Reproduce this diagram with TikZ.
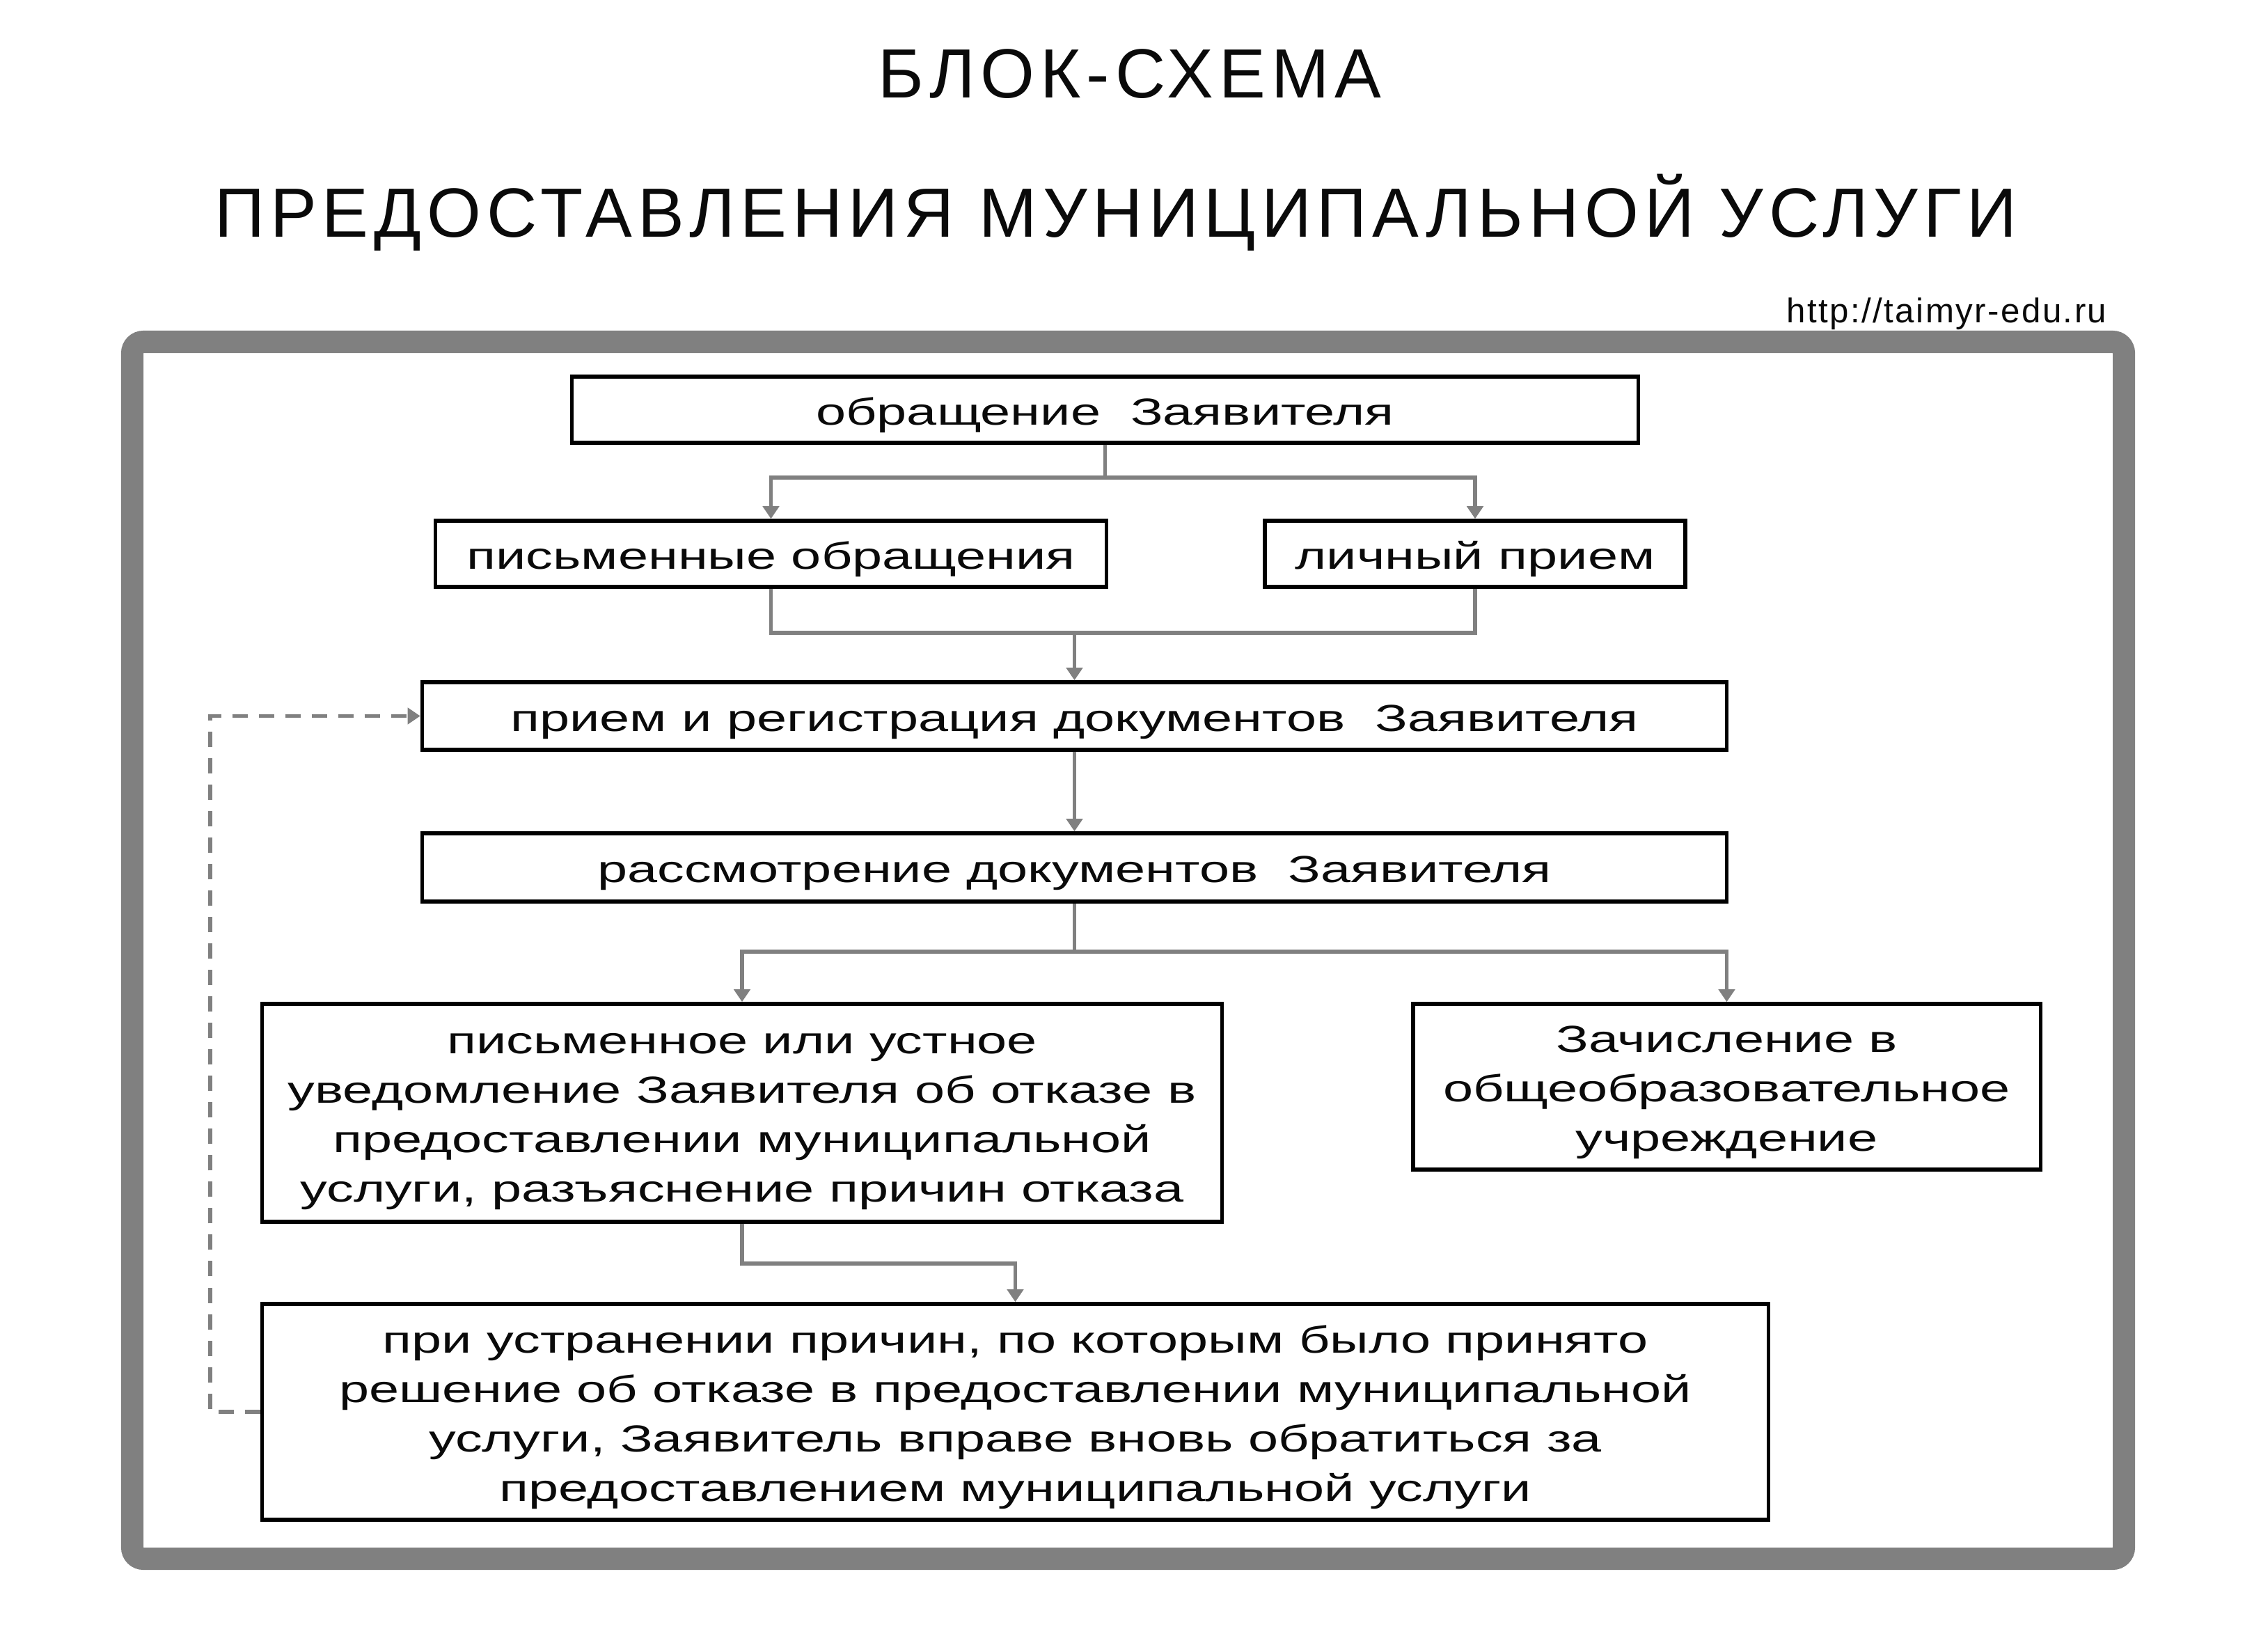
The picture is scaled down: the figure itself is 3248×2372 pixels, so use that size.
\documentclass[tikz,border=0pt]{standalone}
\usepackage{fontspec}
\setmainfont{Liberation Sans}
\newfontfamily\policeBloc{Liberation Sans}[FakeStretch=1.43]
\newfontfamily\policeTitre{Liberation Sans}[LetterSpace=8]
\newfontfamily\policeLien{Liberation Sans}[LetterSpace=5]
\usetikzlibrary{arrows.meta}
\definecolor{grisTrait}{HTML}{808080}
\definecolor{noirTexte}{HTML}{0A0A0A}

\begin{document}
\begin{tikzpicture}[x=0.01cm,y=-0.01cm]
		\tikzstyle{bloc}=[draw,line width=0.055cm,align=center,inner sep=0pt,text=noirTexte,font=\policeBloc\fontsize{15.4pt}{20.2pt}\selectfont]
		\tikzstyle{lien}=[grisTrait,line width=0.055cm]
		\tikzstyle{fleche}=[lien,-{Triangle[length=0.18cm,width=0.23cm]}]
		\tikzstyle{retour}=[fleche,dash pattern=on 0.22cm off 0.16cm]
		\tikzstyle{titre}=[anchor=base,text=noirTexte,inner sep=0pt,font=\policeTitre\fontsize{28.45pt}{34pt}\selectfont]
		\def\haut{\rule{0pt}{0.55cm}}
		\useasboundingbox (0,0) rectangle (3248,2372);
		% cadre
		\draw[grisTrait,line width=0.32cm,rounded corners=0.16cm] (190,491) rectangle (3051,2239);
		% titre
		\node[titre] (T1) at (1623,140) {БЛОК-СХЕМА};
		\node[titre] (T2) at (1603,340) {ПРЕДОСТАВЛЕНИЯ МУНИЦИПАЛЬНОЙ УСЛУГИ};
		\node[anchor=base east,inner sep=0pt,text=noirTexte,font=\policeLien\fontsize{14pt}{17pt}\selectfont] (Url) at (3027,463) {http://taimyr-edu.ru};
		% blocs
		\node[bloc,minimum width=15.31cm,minimum height=0.95cm] (Obr) at (1587.5,588.5) {\haut обращение\ \ Заявителя};
		\node[bloc,minimum width=9.63cm,minimum height=0.95cm] (Pism) at (1107.5,795.5) {\haut письменные обращения};
		\node[bloc,minimum width=6.04cm,minimum height=0.95cm] (Lich) at (2119,795.5) {\haut личный прием};
		\node[bloc,minimum width=18.73cm,minimum height=0.97cm] (Priem) at (1543.5,1028.5) {\haut прием и регистрация документов\ \ Заявителя};
		\node[bloc,minimum width=18.73cm,minimum height=0.98cm] (Rassm) at (1543.5,1246) {\haut рассмотрение документов\ \ Заявителя};
		\node[bloc,minimum width=13.78cm,minimum height=3.13cm] (Otkaz) at (1066,1598.5) {\haut письменное или устное\\уведомление Заявителя об отказе в\\предоставлении муниципальной\\услуги, разъяснение причин отказа};
		\node[bloc,minimum width=9.01cm,minimum height=2.38cm] (Zach) at (2480.5,1561) {\haut Зачисление в\\общеобразовательное\\учреждение};
		\node[bloc,minimum width=21.63cm,minimum height=3.10cm] (Ustr) at (1458.5,2028) {\haut при устранении причин, по которым было принято\\решение об отказе в предоставлении муниципальной\\услуги, Заявитель вправе вновь обратиться за\\предоставлением муниципальной услуги};
		% liaisons
		\coordinate (jA) at (1587.5,686);
		\coordinate (jB) at (1543.5,909);
		\coordinate (jC) at (1543.5,1367);
		\coordinate (jD) at (1066,1815);
		\coordinate (jE) at (302,2028);
		\draw[lien] (Obr) -- (jA);
		\draw[fleche] (jA) -| (Pism);
		\draw[fleche] (jA) -| (Lich);
		\draw[lien] (Pism) |- (jB);
		\draw[lien] (Lich) |- (jB);
		\draw[fleche] (jB) -- (Priem);
		\draw[fleche] (Priem) -- (Rassm);
		\draw[lien] (Rassm) -- (jC);
		\draw[fleche] (jC) -| (Otkaz);
		\draw[fleche] (jC) -| (Zach);
		\draw[fleche] (Otkaz) -- (jD) -| (Ustr);
		\draw[retour] (Ustr) -- (jE) |- (Priem);
	\end{tikzpicture}
\end{document}
